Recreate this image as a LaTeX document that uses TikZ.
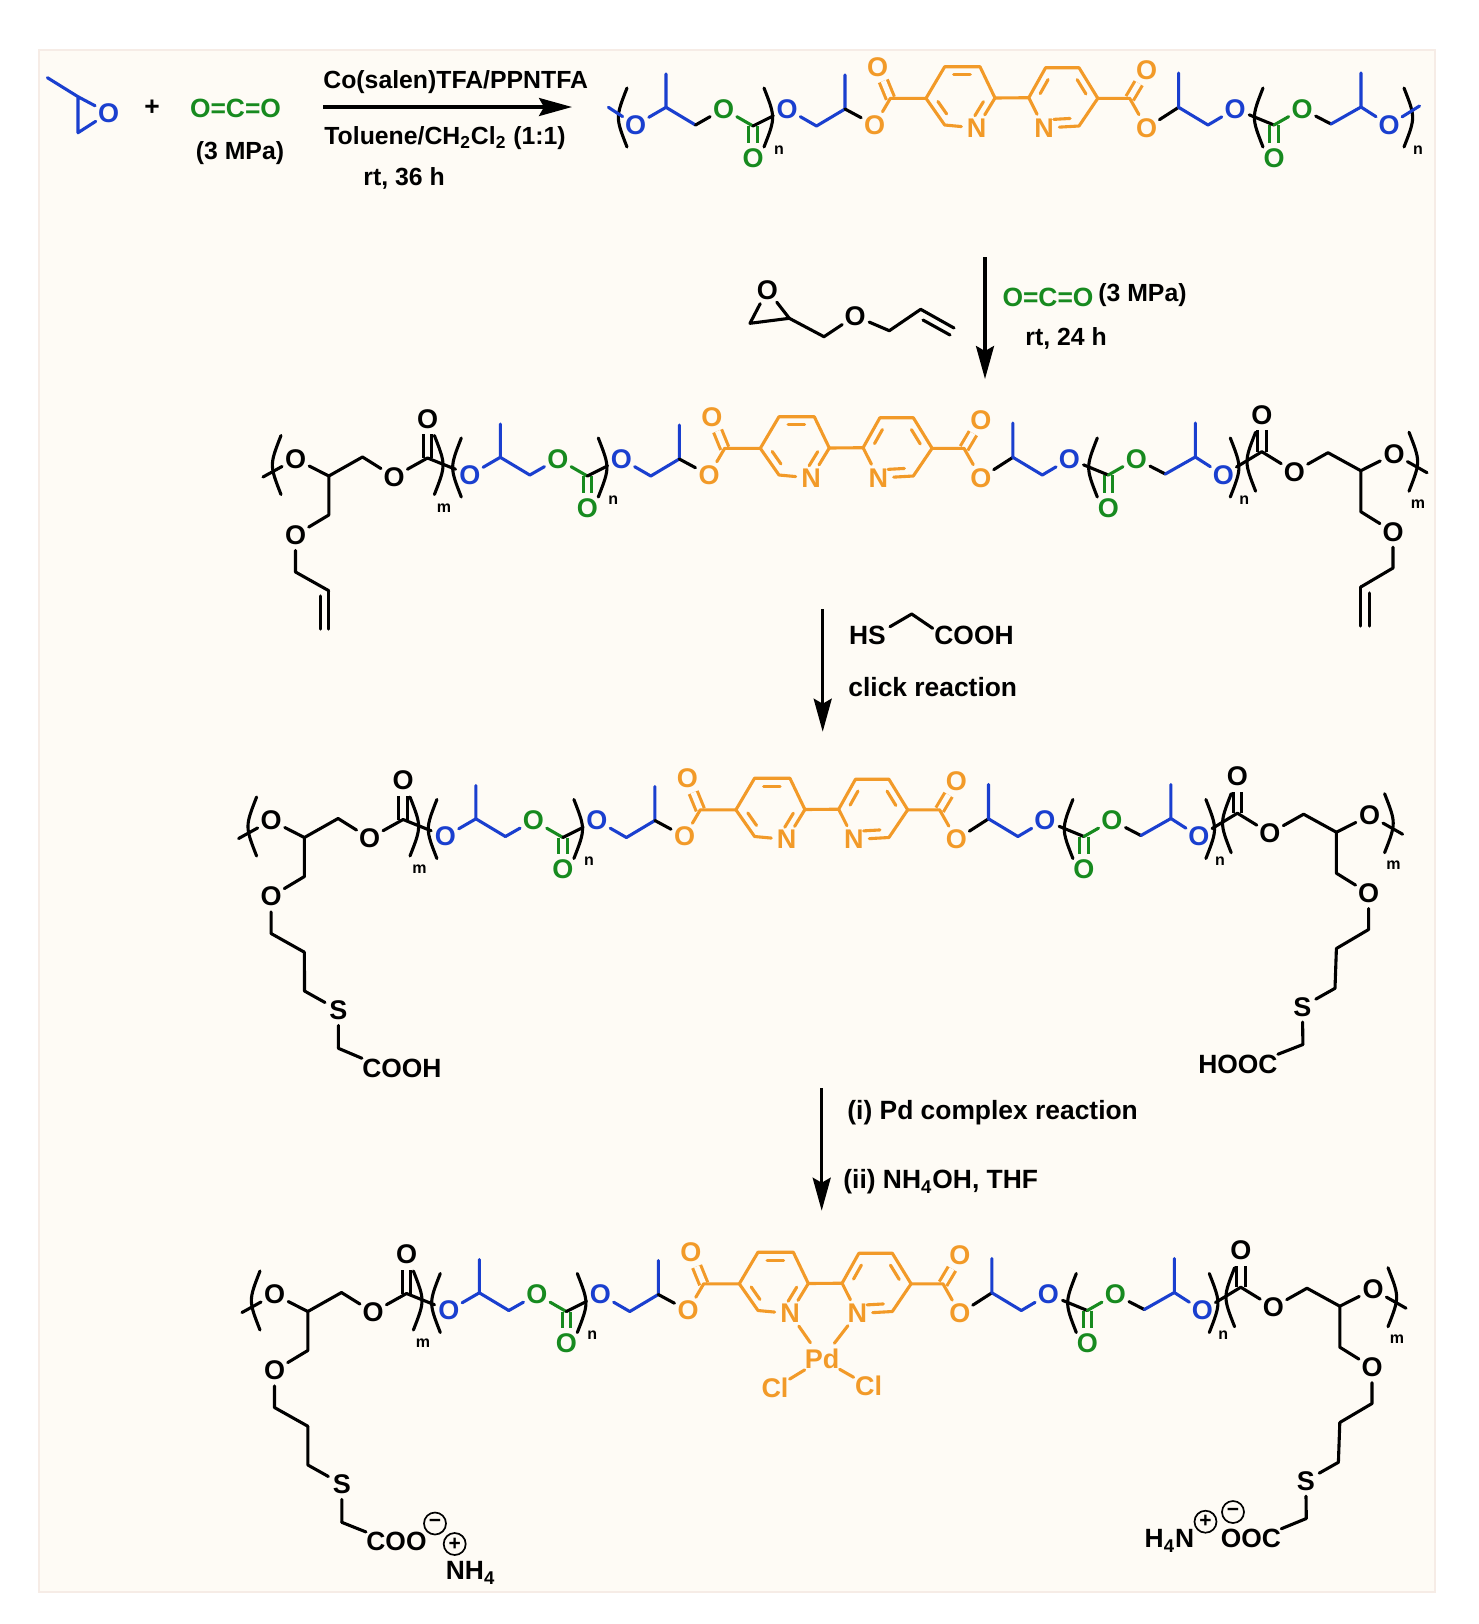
\documentclass[tikz,border=0pt]{standalone}
\usepackage{fontspec}
\setmainfont{Liberation Sans}
\usetikzlibrary{arrows.meta}
\usetikzlibrary{calc}

\definecolor{paper}{HTML}{FEFBF5}
\definecolor{panelline}{HTML}{F6ECE6}
\definecolor{polyblue}{HTML}{1A3FCF}
\definecolor{polygreen}{HTML}{178A1F}
\definecolor{polyorange}{HTML}{F29A28}

\newcommand{\brkL}[2]{\draw[black bond] (#1,#2-29.5) .. controls (#1-11.5,#2) .. (#1,#2+29.5);}
\newcommand{\brkR}[2]{\draw[black bond] (#1,#2-29.5) .. controls (#1+11.5,#2) .. (#1,#2+29.5);}
\newcommand{\ringdbl}[3]{\draw[orange bond] ($($(#1)!.18!(#2)$)!.27!(#3)$) -- ($($(#2)!.18!(#1)$)!.27!(#3)$);}

\newcommand{\ppcchain}[2]{
	\node[blue atom] (o1) at (635.5,125) {O};
	\coordinate (ch1) at (666,107.3);
	\coordinate (me1) at (666,74);
	\coordinate (h1) at (695.5,125);
	\node[green atom] (o2) at (723.5,109) {O};
	\coordinate (c1) at (753,126);
	\node[green atom] (o3) at (753,158) {O};
	\node[blue atom] (o4) at (787,109) {O};
	\coordinate (h2) at (816.5,126);
	\coordinate (ch2) at (845,109);
	\coordinate (me2) at (845,75);
	\node[orange atom] (o5) at (874.7,125) {O};
	\coordinate (c2) at (890.4,98.3);
	\node[orange atom] (o6) at (877.5,66.7) {O};
	\coordinate (r1) at (926,98.3);
	\coordinate (r2) at (944.7,66.7);
	\coordinate (r3) at (980,66.7);
	\coordinate (r4) at (995,98);
	\node[orange atom] (n1) at (976.7,128) {N};
	\coordinate (r6) at (944.7,125);
	\coordinate (rc) at (961,97);
	\coordinate (s1) at (1028.8,97.7);
	\coordinate (s2) at (1045.6,67.7);
	\coordinate (s3) at (1079,67.7);
	\coordinate (s4) at (1097.8,98.3);
	\coordinate (s5) at (1079,126);
	\node[orange atom] (n2) at (1044,128) {N};
	\coordinate (sc) at (1063,97);
	\coordinate (c3) at (1129.7,98.3);
	\node[orange atom] (o7) at (1146.5,70) {O};
	\node[orange atom] (o8) at (1146.5,128) {O};
	\coordinate (ch3) at (1178.6,107.3);
	\coordinate (me3) at (1178.6,73);
	\coordinate (h3) at (1208,125);
	\node[blue atom] (o9) at (1235,109) {O};
	\coordinate (c4) at (1274,125);
	\node[green atom] (o10) at (1274,158) {O};
	\node[green atom] (o11) at (1302,109) {O};
	\coordinate (h4) at (1331,124);
	\coordinate (ch4) at (1361,107);
	\coordinate (me4) at (1361,73);
	\node[blue atom] (o12) at (1389,125) {O};
	\draw[green bond,dbl] (c1) -- (o3);
	\draw[green bond,dbl] (c4) -- (o10);
	\draw[orange bond,dbl] (c2) -- (o6);
	\draw[orange bond,dbl] (c3) -- (o7);
	\draw[blue bond] (o1) -- (ch1) -- (me1);
	\draw[blue bond] (ch1) -- (h1);
	\draw[black bond,#2] (h1) -- (o2);
	\draw[green bond] (o2) -- (c1);
	\draw[black bond] (c1) -- (o4);
	\draw[blue bond] (o4) -- (h2) -- (ch2) -- (me2);
	\draw[black bond] (ch2) -- (o5);
	\draw[orange bond] (o5) -- (c2) -- (r1);
	\draw[orange bond] (r1) -- (r2) -- (r3) -- (r4) -- (n1) -- (r6) -- (r1);
	\draw[orange bond] (r4) -- (s1);
	\draw[orange bond] (s1) -- (s2) -- (s3) -- (s4) -- (s5) -- (n2) -- (s1);
	\draw[orange bond] (s4) -- (c3) -- (o8);
	\ringdbl{r2}{r3}{rc}
	\ringdbl{r4}{n1}{rc}
	\ringdbl{r6}{r1}{rc}
	\ringdbl{s1}{s2}{sc}
	\ringdbl{s3}{s4}{sc}
	\ringdbl{s5}{n2}{sc}
	\draw[black bond] (o8) -- (ch3);
	\draw[blue bond] (me3) -- (ch3) -- (h3) -- (o9);
	\draw[black bond] (o9) -- (c4);
	\draw[green bond] (c4) -- (o11);
	\draw[black bond] (o11) -- (h4);
	\draw[blue bond] (h4) -- (ch4) -- (me4);
	\draw[blue bond] (ch4) -- (o12);
	\brkL{627}{117.5}
	\brkR{764}{117.5}
	\brkL{1263}{117.5}
	\brkR{#1}{117.5}
	\node[idx] (nl1) at (779,150) {n};
	\node[idx] (nl2) at (#1+14,150) {n};
}

\newcommand{\pgearms}{
	\coordinate (t1) at (428.7,127);
	\node[atom] (a1) at (461.2,109) {O};
	\coordinate (d1) at (494.5,126);
	\coordinate (d2) at (528.2,107);
	\node[atom] (a2) at (559.7,126.7) {O};
	\coordinate (d3) at (593.2,108);
	\node[atom] (a3) at (593.2,69) {O};
	\coordinate (d4) at (494.5,165);
	\node[atom] (a4) at (461.2,185) {O};
	\coordinate (d5) at (461.2,222);
	\coordinate (d6) at (494.5,240.7);
	\coordinate (e3) at (1427.5,101.7);
	\node[atom] (b3) at (1427.5,65) {O};
	\node[atom] (b2) at (1460,121.7) {O};
	\coordinate (e2) at (1493.7,102.7);
	\coordinate (e1) at (1526.5,120.7);
	\node[atom] (b1) at (1559.7,104) {O};
	\coordinate (t2) at (1592.7,122.7);
	\coordinate (e4) at (1526.5,161.7);
	\node[atom] (b4) at (1558.7,181.7) {O};
	\coordinate (e5) at (1558.7,218);
	\coordinate (e6) at (1526.5,237);
	\draw[black bond,dbl] (d3) -- (a3);
	\draw[black bond,dbl] (e3) -- (b3);
	\draw[black bond] (t1) -- (a1) -- (d1) -- (d2) -- (a2) -- (d3) -- (o1);
	\draw[black bond] (d1) -- (d4) -- (a4) -- (d5) -- (d6);
	\draw[black bond] (o12) -- (e3) -- (b2) -- (e2) -- (e1) -- (b1) -- (t2);
	\draw[black bond] (e1) -- (e4) -- (b4) -- (e5) -- (e6);
	\brkL{446.7}{115}
	\brkR{600.1}{115}
	\brkL{1421.3}{111.7}
	\brkR{1574.7}{111.7}
	\node[idx] (ml1) at (609.7,158) {m};
	\node[idx] (ml2) at (1583.7,154) {m};
}

\newcommand{\thioarms}{
	\coordinate (d7) at (494.6,279.5);
	\node[atom] (a5) at (528.5,298.5) {S};
	\coordinate (d8) at (528.5,336.8);
	\coordinate (e7) at (1525.1,276.8);
	\node[atom] (b5) at (1492.5,295.2) {S};
	\coordinate (e8) at (1493,333);
	\draw[black bond] (d6) -- (d7) -- (a5) -- (d8);
	\draw[black bond] (e6) -- (e7) -- (b5) -- (e8);
}

\begin{document}
\begin{tikzpicture}[x=0.5pt,y=-0.5pt,>={Stealth[length=16.5pt,width=9pt,inset=2.5pt]},
	atom/.style={circle,inner sep=0pt,minimum size=15pt,font=\fontsize{13.5}{15}\selectfont\bfseries},
	blue atom/.style={atom,text=polyblue},
	green atom/.style={atom,text=polygreen},
	orange atom/.style={atom,text=polyorange},
	black bond/.style={line width=1.55pt,line cap=round,line join=round},
	blue bond/.style={black bond,polyblue},
	green bond/.style={black bond,polygreen},
	orange bond/.style={black bond,polyorange},
	dbl/.style={double=paper,double distance=2.7pt,line cap=butt},
	idx/.style={inner sep=0pt,font=\fontsize{8}{9}\selectfont\bfseries},
	reagent/.style={inner sep=0pt,font=\fontsize{12.4}{14}\selectfont\bfseries},
	end group/.style={inner sep=0pt,font=\fontsize{13.2}{15}\selectfont\bfseries},
	step text/.style={inner sep=0pt,anchor=west,font=\fontsize{13.2}{15}\selectfont\bfseries},
	charge/.style={circle,draw,line width=0.85pt,inner sep=0pt,minimum size=11pt,font=\fontsize{10.5}{10}\selectfont\bfseries},
	yield arrow/.style={->,line width=1.6pt}]

	\useasboundingbox (0,0) rectangle (1479,1624);
	\draw[fill=paper,draw=panelline,line width=1pt] (38.5,50) rectangle (1435,1592);

	\coordinate (pome) at (47.4,77.7);
	\coordinate (po1) at (78,96.7);
	\coordinate (po2) at (78,132.7);
	\node[blue atom] (poo) at (108.7,113) {O};
	\draw[blue bond] (pome) -- (po1) -- (po2) -- (poo) -- (po1);
	\node[step text,anchor=center] (plus) at (152,108) {+};
	\node[step text,anchor=center,text=polygreen] (co2a) at (235.5,108) {O=C=O};
	\node[reagent] (mpa1) at (240,153) {(3 MPa)};
	\node[reagent,anchor=west] (cat) at (323,81.7) {Co(salen)TFA/PPNTFA};
	\node[reagent,anchor=west] (solv) at (324,138) {Toluene/CH\textsubscript{2}Cl\textsubscript{2} (1:1)};
	\node[reagent,anchor=west] (time1) at (363,178) {rt, 36 h};
	\coordinate (arr1a) at (323,107);
	\coordinate (arr1b) at (572,107);
	\draw[yield arrow] (arr1a) -- (arr1b);

	\begin{scope}[name prefix=a-]
		\ppcchain{1404}{black}
		\coordinate (t1) at (608.4,107.3);
		\coordinate (t2) at (1419.5,106);
		\draw[blue bond] (t1) -- (o1);
		\draw[blue bond] (o12) -- (t2);
	\end{scope}

	\node[atom] (geo) at (767.3,290) {O};
	\coordinate (ge1) at (750,323.3);
	\coordinate (ge2) at (789.3,318.3);
	\coordinate (ge3) at (824,336.7);
	\node[atom] (geo2) at (855,316) {O};
	\coordinate (ge4) at (889.3,330.7);
	\coordinate (ge5) at (920.7,309.3);
	\coordinate (ge6) at (954,328);
	\coordinate (ge7) at (923,320);
	\coordinate (ge8) at (950,335);
	\draw[black bond] (geo) -- (ge1) -- (ge2) -- (geo);
	\draw[black bond] (ge2) -- (ge3) -- (geo2) -- (ge4) -- (ge5) -- (ge6);
	\draw[black bond] (ge7) -- (ge8);
	\coordinate (arr2a) at (985,257);
	\coordinate (arr2b) at (985,379);
	\draw[yield arrow] (arr2a) -- (arr2b);
	\node[step text,anchor=center,text=polygreen] (co2b) at (1048,297.3) {O=C=O};
	\node[reagent,anchor=west] (mpa2) at (1098,295) {(3 MPa)};
	\node[reagent,anchor=west] (time2) at (1025,338) {rt, 24 h};

	\begin{scope}[name prefix=b-,shift={(-165.7,350)}]
		\ppcchain{1396}{polyblue}
		\pgearms
		\coordinate (d7) at (494.5,279);
		\coordinate (d8) at (486.1,246);
		\coordinate (d9) at (486.1,279);
		\coordinate (e7) at (1526.5,276);
		\coordinate (e8) at (1535.4,243);
		\coordinate (e9) at (1535.4,276);
		\draw[black bond] (d6) -- (d7);
		\draw[black bond] (d8) -- (d9);
		\draw[black bond] (e6) -- (e7);
		\draw[black bond] (e8) -- (e9);
	\end{scope}

	\coordinate (arr3a) at (822.7,609);
	\coordinate (arr3b) at (822.7,731.7);
	\draw[yield arrow] (arr3a) -- (arr3b);
	\node[step text] (hs) at (848.7,635) {HS};
	\node[step text] (cooht) at (934,635) {COOH};
	\coordinate (ta1) at (890,626.7);
	\coordinate (ta2) at (911.7,614);
	\coordinate (ta3) at (932.7,628.3);
	\draw[black bond] (ta1) -- (ta2) -- (ta3);
	\node[step text] (click) at (848,687) {click reaction};

	\begin{scope}[name prefix=c-,shift={(-190.1,711.5)}]
		\ppcchain{1396}{polyblue}
		\pgearms
		\thioarms
		\node[end group,anchor=west] (cooh) at (552,356.5) {COOH};
		\node[end group,anchor=east] (hooc) at (1468,352.5) {HOOC};
		\draw[black bond] (d8) -- (cooh.north west);
		\draw[black bond] (e8) -- (hooc.north east);
	\end{scope}

	\coordinate (arr4a) at (821.7,1088);
	\coordinate (arr4b) at (821.7,1210.7);
	\draw[yield arrow] (arr4a) -- (arr4b);
	\node[step text] (pdstep) at (847,1113) {(i) Pd complex reaction};
	\node[step text] (nhstep) at (843,1182) {(ii) NH\textsubscript{4}OH, THF};

	\begin{scope}[name prefix=d-,shift={(-186.7,1185.5)}]
		\ppcchain{1396}{polyblue}
		\pgearms
		\thioarms
		\node[orange atom] (pd) at (1008.7,173.8) {Pd};
		\node[orange atom] (cl1) at (961.7,202.5) {Cl};
		\node[orange atom] (cl2) at (1055.2,200.2) {Cl};
		\draw[orange bond] (n1) -- (pd) -- (n2);
		\draw[orange bond] (pd) -- (cl1);
		\draw[orange bond] (pd) -- (cl2);
		\node[end group,anchor=west] (coo) at (552.7,356.2) {COO};
		\node[end group,anchor=east] (ooc) at (1468,353) {OOC};
		\draw[black bond] (d8) -- (coo.north west);
		\draw[black bond] (e8) -- (ooc.north east);
		\node[charge] (neg1) at (621.7,338) {−};
		\node[charge] (pos1) at (641.4,358.5) {+};
		\node[end group,anchor=west] (nh4) at (632.2,387.5) {NH\textsubscript{4}};
		\node[charge] (neg2) at (1419.7,326.5) {−};
		\node[charge] (pos2) at (1392.2,336.2) {+};
		\node[end group,anchor=east] (h4n) at (1381.2,355.5) {H\textsubscript{4}N};
	\end{scope}
\end{tikzpicture}
\end{document}
